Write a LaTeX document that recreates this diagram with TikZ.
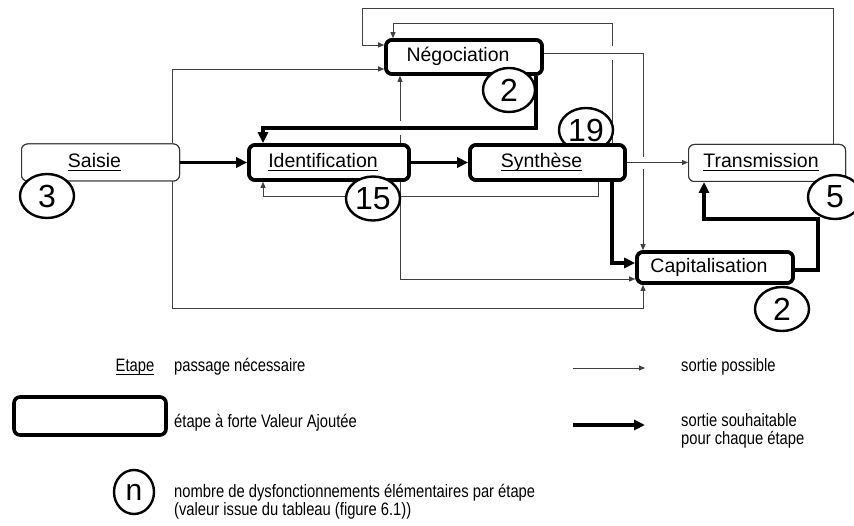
\documentclass[tikz,border=0pt]{standalone}
\usepackage{fontspec}
\setmainfont{Liberation Sans}
\newfontfamily\legendfont[FakeStretch=0.82]{Liberation Sans}
\usetikzlibrary{arrows.meta,shapes.geometric}
\newcommand\ulx[1]{\leavevmode\setbox0\hbox{#1}\rlap{\rule[-3.2pt]{\wd0}{0.9pt}}\box0}
\newcommand\boxtxt[1]{#1\hspace*{12pt}}
\begin{document}
\begin{tikzpicture}[x=1pt,y=-1pt,
  thinline/.style={draw=black!75, line width=0.9pt},
  thinarrow/.style={thinline, -{Triangle[length=6pt,width=5pt]}},
  thickarrow/.style={draw=black, line width=3.6pt, -{Triangle[length=11pt,width=10pt]}},
  thinbox/.style={draw=black!80, line width=1pt, rounded corners=6pt, fill=white,
    font=\fontsize{19.5}{21}\selectfont, inner sep=0pt, text height=14pt, text depth=4pt},
  thickbox/.style={draw=black, line width=3.6pt, rounded corners=6pt, fill=white,
    font=\fontsize{19.5}{21}\selectfont, inner sep=0pt, text height=14pt, text depth=4pt},
  count/.style={ellipse, draw=black, line width=2.4pt, fill=white, inner sep=0pt,
    minimum width=54pt, minimum height=44pt, font=\fontsize{32}{32}\selectfont},
  legtext/.style={anchor=west, inner sep=0pt, font=\legendfont\fontsize{18}{18}\selectfont, align=left},
  gap/.style={fill=white}
]
\useasboundingbox (0,0) rectangle (854,526);

% boxes (named; drawn again on top after the connectors)
\path (100.5,162.5) node[thinbox, minimum width=158pt, minimum height=37pt] (Saisie) {\boxtxt{\ulx{Saisie}}};
\path (329,162.5) node[thickbox, minimum width=160pt, minimum height=35pt] (Ident) {\boxtxt{\ulx{Identification}}};
\path (464,57) node[thickbox, minimum width=156pt, minimum height=34pt] (Nego) {\boxtxt{Négociation}};
\path (547.5,162.5) node[thickbox, minimum width=155pt, minimum height=35pt] (Synth) {\boxtxt{\ulx{Synthèse}}};
\path (767,163) node[thinbox, minimum width=157pt, minimum height=37pt] (Trans) {\boxtxt{\ulx{Transmission}}};
\path (715,267.5) node[thickbox, minimum width=156pt, minimum height=31pt] (Capi) {\boxtxt{Capitalisation}};

% thin connectors
\draw[thinarrow] (Saisie.north -| 172,0) |- (Nego.west |- 0,69);
\draw[thinarrow] (Saisie.south -| 172,0) |- (643,308) -- (Capi.south -| 643,0);
\draw[thinarrow] (Ident.south -| 400,0) |- (Capi.west |- 0,279);
\draw[thinarrow] (Synth.south -| 598,0) |- (263,196) -- (Ident.south -| 263,0);
\draw[thinarrow] (Trans.north -| 833,0) |- (362,8) |- (Nego.west |- 0,45);
\draw[thinarrow] (Synth.north -| 612,0) |- (393,23) -- (Nego.north -| 393,0);
\fill[gap] (606,46) rectangle (618,60);
\draw[thinarrow] (Nego.east |- 0,53) -| (Capi.north -| 643,0);
\fill[gap] (637,157) rectangle (649,169);
\draw[thinarrow] (Synth.east) -- (Trans.west |- Synth.east);
\draw[thinarrow] (Ident.north -| 400,0) -- (Nego.south -| 400,0);
\fill[gap] (394,121) rectangle (406,135);

% thick connectors
\draw[thickarrow] (Saisie.east) -- (Ident.west);
\draw[thickarrow] (Ident.east) -- (Synth.west);
\draw[thickarrow] (Nego.south -| 536,0) |- (263,128) -- (Ident.north -| 263,0);
\draw[thickarrow] (Synth.south -| 612,0) |- (Capi.west |- 0,263);
\draw[thickarrow] (Capi.east |- 0,270) -| (818,219) -| (Trans.south -| 704,0);

% circle 19 sits behind Synthese
\node[count] (c19) at (586,130) {19};
% redraw boxes on top
\node[thinbox, minimum width=158pt, minimum height=37pt] at (Saisie.center) {\boxtxt{\ulx{Saisie}}};
\node[thickbox, minimum width=160pt, minimum height=35pt] at (Ident.center) {\boxtxt{\ulx{Identification}}};
\node[thickbox, minimum width=156pt, minimum height=34pt] at (Nego.center) {\boxtxt{Négociation}};
\node[thickbox, minimum width=155pt, minimum height=35pt] at (Synth.center) {\boxtxt{\ulx{Synthèse}}};
\node[thinbox, minimum width=157pt, minimum height=37pt] at (Trans.center) {\boxtxt{\ulx{Transmission}}};
\node[thickbox, minimum width=156pt, minimum height=31pt] at (Capi.center) {\boxtxt{Capitalisation}};

% counts
\node[count] (c3) at (47,196) {3};
\node[count] (c15) at (373,198.5) {15};
\node[count, minimum width=52pt] (c2a) at (509,90) {2};
\node[count] (c5) at (835,197) {5};
\node[count] (c2b) at (782,309) {2};

% legend
\node[inner sep=0pt, font=\legendfont\fontsize{18}{18}\selectfont] (lEtape) at (135,367) {\ulx{Etape}};
\node[legtext] (lpass) at (174,367) {passage nécessaire};
\coordinate (la1) at (573,368);
\coordinate (la2) at (645,368);
\draw[thinarrow] (la1) -- (la2);
\node[legtext] (lposs) at (681,367) {sortie possible};
\node[thickbox, minimum width=152pt, minimum height=38pt] (lbox) at (90,416) {};
\node[legtext] (lva) at (174,423) {étape à forte Valeur Ajoutée};
\coordinate (lb1) at (573,425);
\coordinate (lb2) at (645,425);
\draw[thickarrow] (lb1) -- (lb2);
\node[legtext] (lsouh) at (681,431) {sortie souhaitable\\pour chaque étape};
\node[count, minimum width=40pt, minimum height=44pt, font=\fontsize{30}{30}\selectfont] (cn) at (134,492) {n};
\node[legtext] (lnb) at (174,502) {nombre de dysfonctionnements élémentaires par étape\\(valeur issue du tableau (figure 6.1))};
\end{tikzpicture}
\end{document}
